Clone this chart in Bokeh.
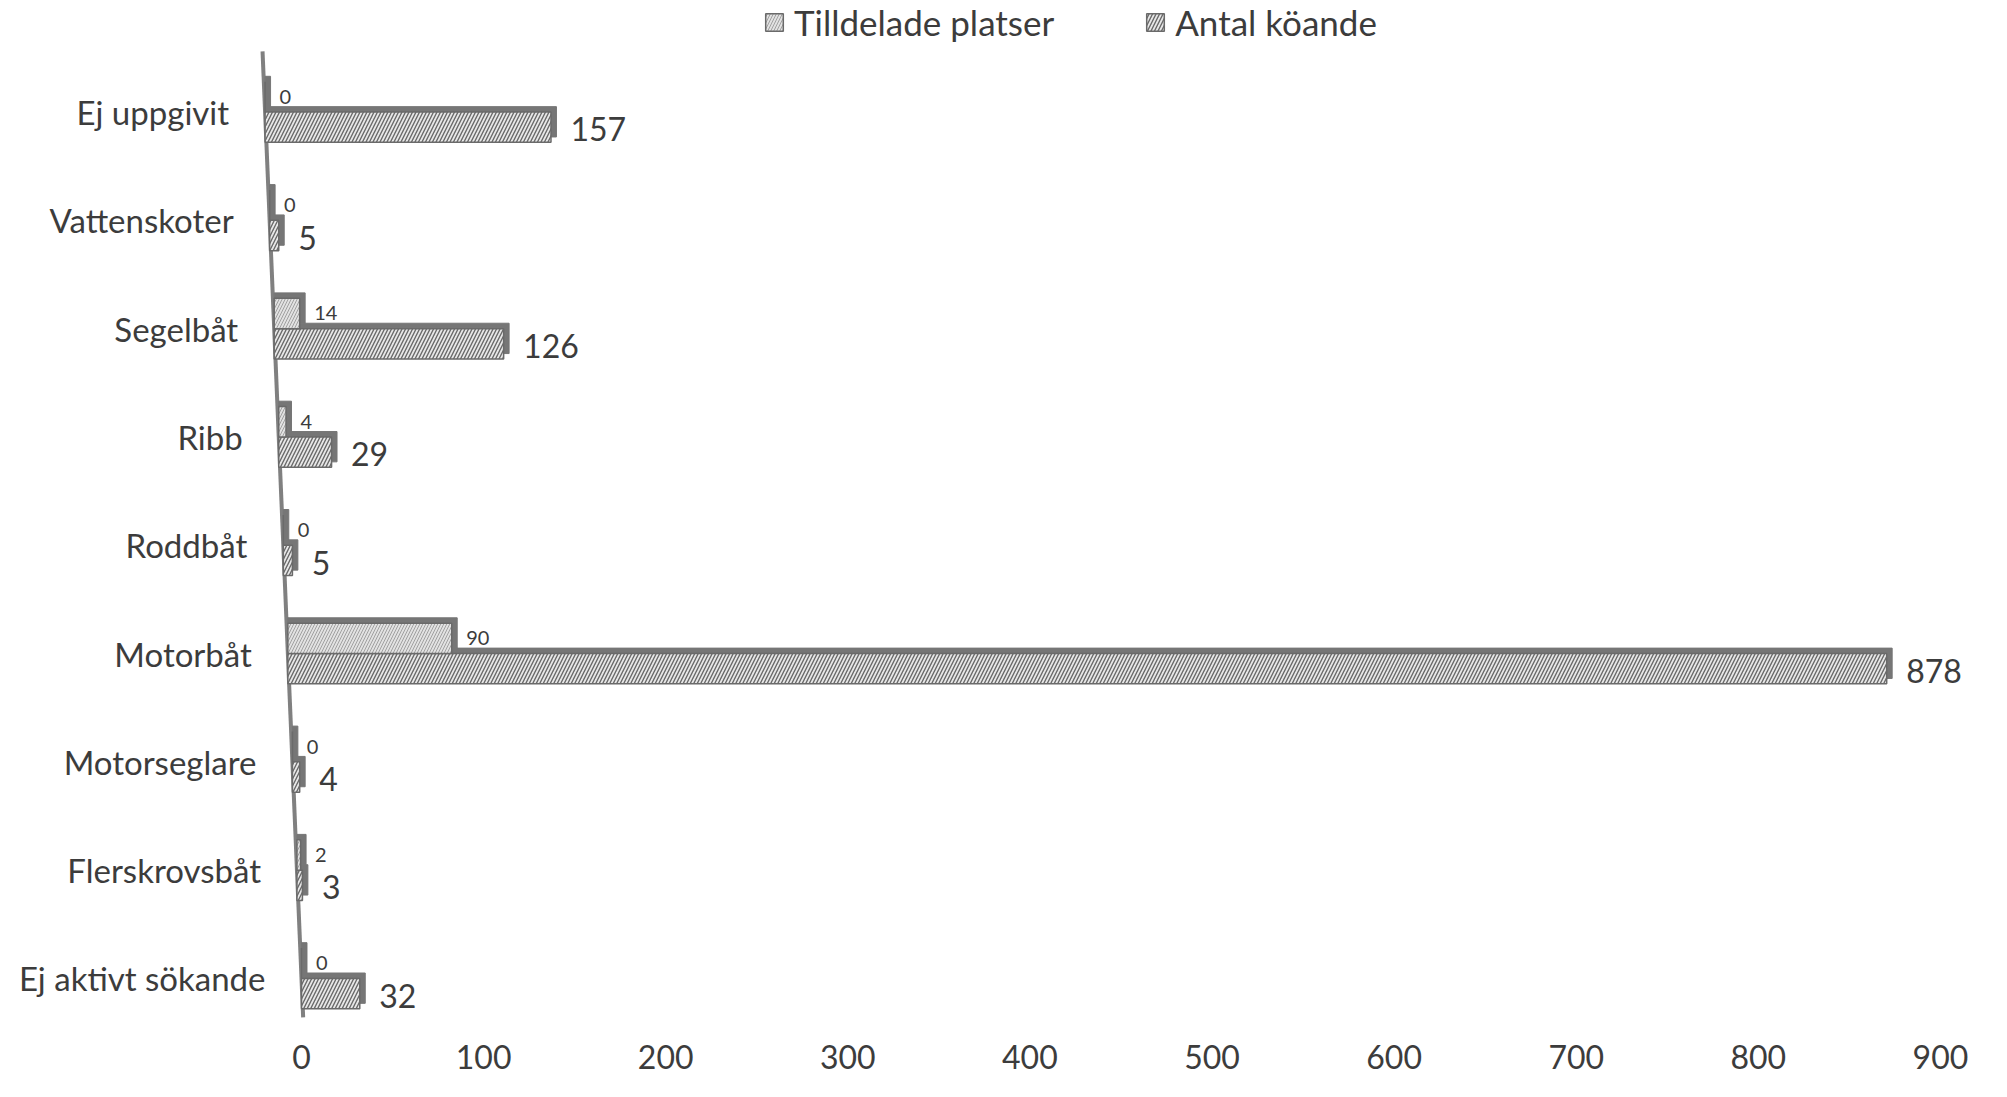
from bokeh.plotting import figure
from bokeh.models import ColumnDataSource, Range1d, FixedTicker, Legend, LegendItem
from bokeh.core.properties import value
from bokeh.embed import file_html
from bokeh.resources import INLINE

# ---- data ----
categories = ["Ej uppgivit", "Vattenskoter", "Segelbåt", "Ribb", "Roddbåt",
              "Motorbåt", "Motorseglare", "Flerskrovsbåt", "Ej aktivt sökande"]
tilldelade = [0, 0, 14, 4, 0, 90, 0, 2, 0]        # Tilldelade platser
antal = [157, 5, 126, 29, 5, 878, 4, 3, 32]       # Antal köande
x_ticks = [0, 100, 200, 300, 400, 500, 600, 700, 800, 900]
series_names = ["Tilldelade platser", "Antal köande"]

# ---- styling constants ----
FONT = "Lato"
TXT = "#3c3c3c"
EDGE = "#767676"
SLANT = 20.0     # 3D wall slant (value units, top vs bottom)
H = 0.28         # bar thickness (category units)
DX = 3.0         # depth offset x (value units)
DY = 0.05        # depth offset y (category units)

n = len(categories)
pos = [n - 1 - i for i in range(n)]
wall = [-SLANT * p / (n - 1) for p in pos]


def bar_source(vals, lower):
    bottoms = [p - H if lower else p for p in pos]
    tops = [b + H for b in bottoms]
    rights = [w + v for w, v in zip(wall, vals)]
    return ColumnDataSource(dict(
        left=wall, right=rights, bottom=bottoms, top=tops,
        dleft=wall, dright=[r + DX for r in rights],
        dbottom=[b + DY for b in bottoms], dtop=[t + DY for t in tops],
        label=[str(v) for v in vals],
        ly=[(b + t) / 2 - 0.02 for b, t in zip(bottoms, tops)],
        ly_small=[b + H * 0.5 for b in bottoms],
    ))


src_t = bar_source(tilldelade, lower=False)
src_a = bar_source(antal, lower=True)
src_c = ColumnDataSource(dict(x=wall, y=pos, text=categories))

p = figure(width=1990, height=1080, output_backend="svg", toolbar_location=None,
           x_range=Range1d(-165.3, 927.5), y_range=Range1d(-0.37, 9.03),
           y_axis_location=None, min_border_left=0, min_border_right=0,
           min_border_top=0, min_border_bottom=62)
p.outline_line_color = None
p.xgrid.grid_line_color = None
p.ygrid.grid_line_color = None
p.background_fill_color = "white"

# slanted wall / axis line
p.line(x=[-SLANT * 8.56 / (n - 1), -SLANT * (-0.36) / (n - 1)], y=[8.56, -0.36],
       line_color="#808080", line_width=4)

# depth faces
p.quad(left="dleft", right="dright", bottom="dbottom", top="dtop", source=src_a,
       fill_color=EDGE, line_color=EDGE, line_width=1)
p.quad(left="dleft", right="dright", bottom="dbottom", top="dtop", source=src_t,
       fill_color=EDGE, line_color=EDGE, line_width=1)

# front faces
r_a = p.quad(left="left", right="right", bottom="bottom", top="top", source=src_a,
             fill_color="#e8e8e8", line_color="#6a6a6a", line_width=1.5,
             hatch_pattern="/", hatch_scale=7, hatch_weight=1.4, hatch_color="#6a6a6a")
r_t = p.quad(left="left", right="right", bottom="bottom", top="top", source=src_t,
             fill_color="#e2e2e2", line_color="#6a6a6a", line_width=1.5,
             hatch_pattern="/", hatch_scale=6, hatch_weight=1.0, hatch_color="#a0a0a0")

# value labels
p.text(x="dright", y="ly_small", text="label", source=src_t, x_offset=9,
       text_align="left", text_baseline="middle", text_font=value(FONT),
       text_font_size="20px", text_color=TXT)
p.text(x="dright", y="ly", text="label", source=src_a, x_offset=14,
       text_align="left", text_baseline="middle", text_font=value(FONT),
       text_font_size="32px", text_color=TXT)

# category labels (follow the slanted wall)
p.text(x="x", y="y", text="text", source=src_c, x_offset=-36,
       text_align="right", text_baseline="middle", text_font=value(FONT),
       text_font_size="33px", text_color=TXT)

# x axis
p.xaxis.ticker = FixedTicker(ticks=x_ticks)
p.xaxis.axis_line_color = None
p.xaxis.major_tick_line_color = None
p.xaxis.minor_tick_line_color = None
p.xaxis.major_label_standoff = 20
p.xaxis.major_label_text_font = FONT
p.xaxis.major_label_text_font_size = "32px"
p.xaxis.major_label_text_color = TXT

legend = Legend(items=[LegendItem(label=series_names[0], renderers=[r_t]),
                       LegendItem(label=series_names[1], renderers=[r_a])],
                orientation="horizontal", location=(763, 975),
                glyph_width=22, glyph_height=22, label_standoff=9, spacing=90,
                padding=0, margin=0, border_line_color=None,
                background_fill_alpha=0,
                label_text_font=FONT, label_text_font_size="35px",
                label_text_color=TXT)
p.add_layout(legend, "center")

open("out.html", "w").write(file_html(p, INLINE))
